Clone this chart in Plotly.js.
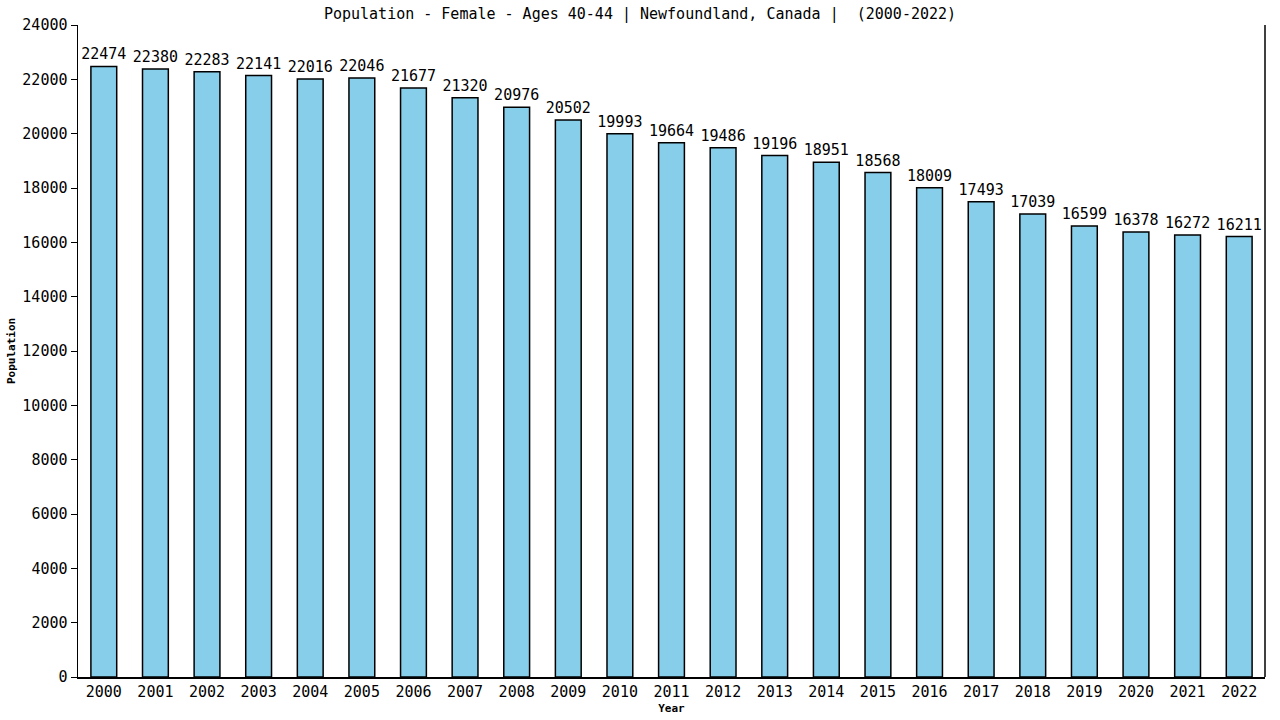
<!DOCTYPE html>
<html>
<head>
<meta charset="utf-8">
<script src="https://cdn.plot.ly/plotly-3.0.1.min.js"></script>
<style>
  html, body { margin: 0; padding: 0; background: #fff; }
  #chart { width: 1280px; height: 720px; }
</style>
</head>
<body>
<div id="chart"></div>
<script>
// years and female population aged 40-44, Newfoundland
const years = ["2000", "2001", "2002", "2003", "2004", "2005", "2006", "2007", "2008", "2009", "2010", "2011",
    "2012", "2013", "2014", "2015", "2016", "2017", "2018", "2019", "2020", "2021", "2022"];
const population = [22474, 22380, 22283, 22141, 22016, 22046, 21677, 21320, 20976, 20502, 19993, 19664,
    19486, 19196, 18951, 18568, 18009, 17493, 17039, 16599, 16378, 16272, 16211];
const y_ticks = [0, 2000, 4000, 6000, 8000, 10000, 12000, 14000, 16000, 18000, 20000, 22000, 24000];

const mono = "DejaVu Sans Mono, monospace";

let data = [{
    type: "bar",
    x: years,
    y: population,
    width: 0.5,
    marker: {color: "#87CEEB", line: {color: "#000000", width: 1.5}},
    text: population.map(String),
    textposition: "outside",
    constraintext: "none",
    cliponaxis: false,
    textfont: {family: mono, size: 15, color: "#000"},
    hoverinfo: "x+y"
}];

let layout = {
    width: 1280,
    height: 720,
    margin: {l: 78, r: 15, t: 25, b: 43},
    paper_bgcolor: "#fff",
    plot_bgcolor: "#fff",
    showlegend: false,
    title: {
        text: "Population - Female - Ages 40-44 | Newfoundland, Canada |  (2000-2022)",
        font: {family: mono, size: 15, color: "#000"},
        x: 0.5, xanchor: "center", y: 0.981, yanchor: "middle"
    },
    xaxis: {
        type: "category",
        range: [-0.5, 22.5],
        showgrid: false,
        zeroline: false,
        showline: true,
        linecolor: "#000",
        linewidth: 1.5,
        ticks: "",
        tickfont: {family: mono, size: 15, color: "#000"},
        title: {text: "<b>Year</b>", font: {family: mono, size: 11, color: "#000"}, standoff: 5}
    },
    yaxis: {
        range: [0, 24000],
        tickvals: y_ticks,
        ticktext: y_ticks.map(String),
        showgrid: false,
        zeroline: false,
        showline: true,
        linecolor: "#000",
        linewidth: 1.5,
        ticks: "outside",
        ticklen: 6,
        tickcolor: "#000",
        tickfont: {family: mono, size: 15, color: "#000"},
        title: {text: "<b>Population</b>", font: {family: mono, size: 11, color: "#000"}, standoff: 4}
    },
    shapes: [{
        type: "line", xref: "paper", yref: "paper",
        x0: 1, x1: 1, y0: 0, y1: 1,
        line: {color: "#000", width: 1.5}
    }],
    bargap: 0.5
};

Plotly.newPlot("chart", data, layout, {displayModeBar: false, staticPlot: true});
</script>
</body>
</html>
